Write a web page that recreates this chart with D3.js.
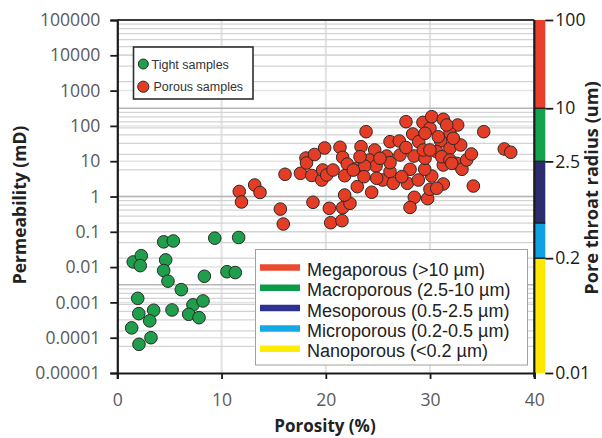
<!DOCTYPE html>
<html><head><meta charset="utf-8">
<script src="https://cdn.jsdelivr.net/npm/d3@7"></script>
<style>body{margin:0;background:#fff}svg{display:block}</style>
</head><body><svg id="c" width="602" height="438"></svg>
<script>
// ---- data ----
const tightPorosity = [4.45,5.37,9.35,11.64,1.53,2.3,2.2,4.64,4.45,4.86,8.35,10.52,11.32,6.14,1.96,2.06,3.49,3.11,5.25,7.26,8.22,6.85,7.84,1.38,3.23,2.08];
const tightPerm     = [0.052,0.055,0.066,0.069,0.014,0.021,0.011,0.016,0.008,0.004,0.0055,0.0074,0.007,0.0023,0.0013,0.00048,0.0006,0.0003,0.00061,0.00085,0.0011,0.00046,0.00037,0.00019,0.0001,0.000065];
const porousPorosity = [11.7,11.91,13.18,13.69,15.64,15.92,16.09,17.57,18.1,18.15,18.92,19.89,18.65,19.61,19.7,20.09,20.69,18.77,20.34,20.47,21.55,21.62,22.32,21.81,21.36,21.62,22.06,21.81,23.02,24.4,23.38,23.86,24.69,24.17,24.82,22.96,23.73,23.66,25.46,26.16,26.47,25.84,26.16,26.16,27.05,27.12,27.69,28.34,28.46,28.08,27.82,28.87,28.49,28.08,29.77,29.99,30.16,29.49,29.52,28.91,29.32,29.99,30.16,31.27,32.65,31.91,31.02,30.64,31.91,32.94,31.27,32.56,33.06,33.51,33.96,31.27,34.15,35.15,37.12,37.74,22.64,25.2,27.69,29.35,27.28,23.28,24.88,31.6,29.52,30.79,32.23,29.99,31.12,31.91,30.64,32.08];
const porousPerm     = [1.39,0.7,2.12,1.3,0.44,0.166,4.26,4.54,12.3,8.9,15.5,23.7,3.94,2.93,5.63,4.06,5.63,0.685,0.463,0.181,0.206,0.482,0.64,1.1,24.8,12.9,8.3,3.88,1.9,1.32,25.8,68.5,20.8,10.8,7.3,6.3,7.3,3.64,2.93,5.04,2.37,14,9.1,35.7,37.3,15,131.5,59,14,5.9,2.37,2.93,0.95,0.49,0.87,1.6,3.81,5.9,12.1,35.7,126,85.5,182,154,106,61.7,37.3,18.6,23.2,28.8,7.8,8.7,5.9,10.8,16,2.26,1.98,68.5,22.2,17.9,5.6,12.1,24.4,20.8,3.64,13.4,3.28,106,61.7,49.4,44.6,20.8,13.4,10.8,1.71,8.7];
const xTicks = [0,10,20,30,40];
const yTicks = [1e-5,1e-4,1e-3,1e-2,1e-1,1,10,100,1000,10000,100000];
const yTickLabels = ["0.00001","0.0001","0.001","0.01","0.1","1","10","100","1000","10000","100000"];
const rTicks = [100,10,2.5,0.2,0.01];
const rTickLabels = ["100","10","2.5","0.2","0.01"];
const poreClasses = ["Megaporous (>10 \u00b5m)","Macroporous (2.5-10 \u00b5m)","Mesoporous (0.5-2.5 \u00b5m)","Microporous (0.2-0.5 \u00b5m)","Nanoporous (<0.2 \u00b5m)"];
const classLow  = [10,2.5,0.5,0.2,0.01];
const classHigh = [100,10,2.5,0.5,0.2];
const classColors = ["#e8402a","#14a24b","#2c2c6e","#0ea2e2","#ffe800"];
const legendColors = ["#ea4a2e","#0b9a48","#2e3191","#12a9e8","#ffec00"];
const sampleNames = ["Tight samples","Porous samples"];
const sampleColors = ["#1f9f4b","#e53d25"];

// ---- layout ----
const svg = d3.select("#c");
const L = 117.3, R = 534.3, T = 20, B = 373;
const x = d3.scaleLinear().domain([0,40]).range([L,R]);
const y = d3.scaleLog().domain([1e-5,1e5]).range([B,T]);
const yr = d3.scaleLog().domain([0.01,100]).range([B,T]);

const g = svg.append("g");
// vertical grid
g.selectAll(".vg").data(xTicks.slice(1,-1)).join("line")
  .attr("x1",d=>x(d)).attr("x2",d=>x(d)).attr("y1",T).attr("y2",B)
  .attr("stroke","#e2e2e2").attr("stroke-width",2);
// left decade grid
g.selectAll(".lg").data(yTicks.slice(1,-1)).join("line")
  .attr("x1",L).attr("x2",R).attr("y1",d=>y(d)).attr("y2",d=>y(d))
  .attr("stroke","#e4e4e4").attr("stroke-width",1.5);
// right minor grid
const rMinor = [];
[0.01,0.1,1,10].forEach(d=>{for(let m=2;m<=9;m++) rMinor.push(d*m);});
g.selectAll(".rg").data(rMinor).join("line")
  .attr("x1",L).attr("x2",R).attr("y1",d=>yr(d)).attr("y2",d=>yr(d))
  .attr("stroke","#d3d3d3").attr("stroke-width",1.3);
g.selectAll(".rG").data([0.1,1,10]).join("line")
  .attr("x1",L).attr("x2",R).attr("y1",d=>yr(d)).attr("y2",d=>yr(d))
  .attr("stroke","#b5b5b5").attr("stroke-width",1.6);

// top frame line
g.append("line").attr("x1",L).attr("x2",R).attr("y1",T).attr("y2",T)
  .attr("stroke","#3a3a3a").attr("stroke-width",2);

// colour bar
svg.selectAll(".cb").data(classLow).join("rect")
  .attr("x",R).attr("width",11)
  .attr("y",(d,i)=>yr(classHigh[i])).attr("height",(d,i)=>yr(d)-yr(classHigh[i]))
  .attr("fill",(d,i)=>classColors[i]);
svg.selectAll(".cbl").data([10,2.5,0.5,0.2]).join("line")
  .attr("x1",R).attr("x2",R+11).attr("y1",d=>yr(d)).attr("y2",d=>yr(d))
  .attr("stroke","#222").attr("stroke-width",1.5);

// axes
const axFont = "'Open Sans', sans-serif";
const ax = svg.append("g").attr("transform",`translate(${L},0)`)
  .call(d3.axisLeft(y).tickValues(yTicks).tickFormat((d,i)=>yTickLabels[i]).tickSize(7).tickPadding(10));
const bx = svg.append("g").attr("transform",`translate(0,${B})`)
  .call(d3.axisBottom(x).tickValues(xTicks).tickSize(6).tickPadding(15));
const rx = svg.append("g").attr("transform",`translate(${R+11},0)`)
  .call(d3.axisRight(yr).tickValues(rTicks).tickFormat((d,i)=>rTickLabels[i]).tickSize(8).tickPadding(2));
[ax,bx].forEach(a=>{
  a.select(".domain").attr("stroke","#1a1a1a").attr("stroke-width",2.2);
  a.selectAll(".tick line").attr("stroke","#1a1a1a").attr("stroke-width",1.8);
  a.selectAll("text").attr("font-family",axFont).attr("font-size",17.6).attr("fill","#5a5a5a");
});
rx.select(".domain").remove();
rx.selectAll(".tick line").attr("stroke","#1a1a1a").attr("stroke-width",1.8);
rx.selectAll("text").attr("font-family",axFont).attr("font-size",17.6).attr("fill","#1a1a1a");
// right axis line
svg.append("line").attr("x1",R).attr("x2",R).attr("y1",T).attr("y2",B+4)
  .attr("stroke","#1a1a1a").attr("stroke-width",2.2);

// titles
svg.append("text").attr("transform","translate(26,205) rotate(-90)")
  .attr("text-anchor","middle").attr("font-family",axFont).attr("font-weight","bold")
  .attr("font-size",17.5).attr("fill","#222").text("Permeability (mD)");
svg.append("text").attr("x",325).attr("y",432)
  .attr("text-anchor","middle").attr("font-family",axFont).attr("font-weight","bold")
  .attr("font-size",17).attr("fill","#222").text("Porosity (%)");
svg.append("text").attr("transform","translate(598,188) rotate(-90)")
  .attr("text-anchor","middle").attr("font-family",axFont).attr("font-weight","bold")
  .attr("font-size",18.2).attr("fill","#222").text("Pore throat radius (um)");

// pore class legend
const lg = svg.append("g");
lg.append("rect").attr("x",255.5).attr("y",249.5).attr("width",272).attr("height",115.5)
  .attr("fill","#fff").attr("stroke","#a0a0a0").attr("stroke-width",1);
const ly = d3.scalePoint().domain(poreClasses).range([267.5,348.7]);
lg.selectAll(".sw").data(poreClasses).join("line")
  .attr("x1",260).attr("x2",300).attr("y1",d=>ly(d)).attr("y2",d=>ly(d))
  .attr("stroke",(d,i)=>legendColors[i]).attr("stroke-width",6.5);
lg.selectAll(".lt").data(poreClasses).join("text")
  .attr("x",307).attr("y",d=>ly(d)+8.5)
  .attr("font-family","'Liberation Sans', Arial, sans-serif").attr("font-size",18)
  .attr("fill","#222").text(d=>d);

// points
const tight = tightPorosity.map((p,i)=>({p,k:tightPerm[i]}));
const porous = porousPorosity.map((p,i)=>({p,k:porousPerm[i]}));
svg.append("g").selectAll("circle").data(tight).join("circle")
  .attr("cx",d=>x(d.p)).attr("cy",d=>y(d.k)).attr("r",6.3)
  .attr("fill",sampleColors[0]).attr("stroke","#2a2a2a").attr("stroke-width",1);
svg.append("g").selectAll("circle").data(porous).join("circle")
  .attr("cx",d=>x(d.p)).attr("cy",d=>y(d.k)).attr("r",6.3)
  .attr("fill",sampleColors[1]).attr("stroke","#2a2a2a").attr("stroke-width",1);

// samples legend
const sg = svg.append("g");
sg.append("rect").attr("x",133.5).attr("y",47).attr("width",119.5).attr("height",52)
  .attr("fill","#fff").attr("stroke","#2e2e2e").attr("stroke-width",1.6);
const sy = [64,86.7];
sg.selectAll("circle").data(sampleNames).join("circle")
  .attr("cx",143.3).attr("cy",(d,i)=>sy[i]).attr("r",(d,i)=>i?5.6:5)
  .attr("fill",(d,i)=>sampleColors[i]).attr("stroke","#2a2a2a").attr("stroke-width",1);
sg.selectAll("text").data(sampleNames).join("text")
  .attr("x",(d,i)=>i?153.5:151.5).attr("y",(d,i)=>sy[i]+4.5)
  .attr("font-family","'Liberation Sans', Arial, sans-serif").attr("font-size",12.5)
  .attr("fill","#333").text(d=>d);
</script></body></html>
